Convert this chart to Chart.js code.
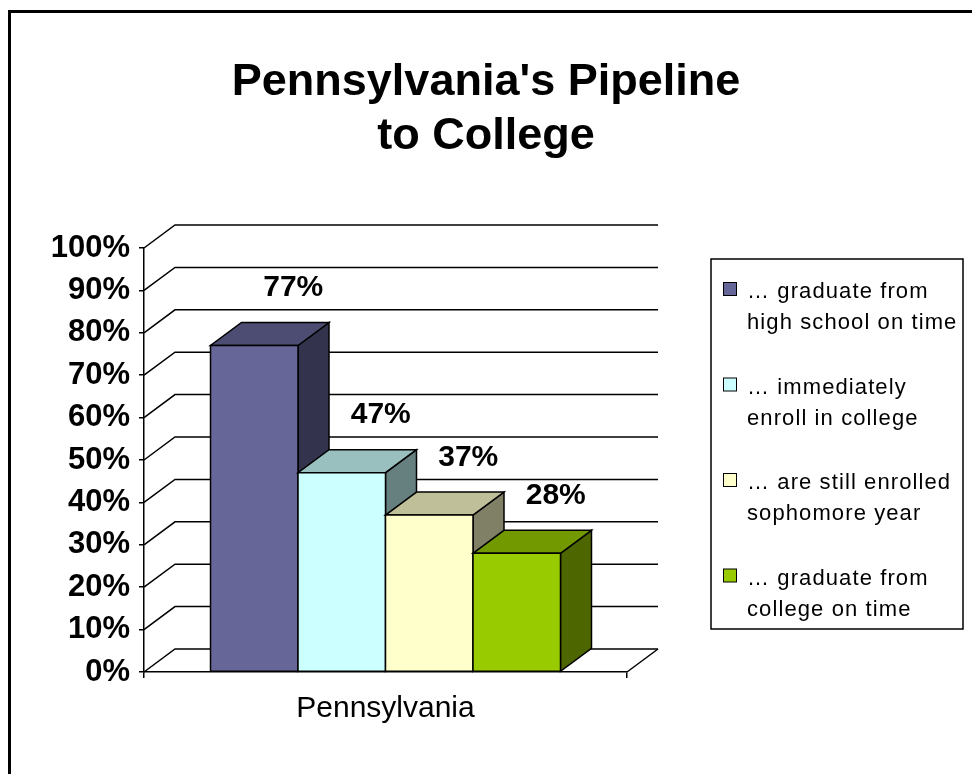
<!DOCTYPE html>
<html>
<head>
<meta charset="utf-8">
<script src="https://cdn.jsdelivr.net/npm/chart.js@4.4.1/dist/chart.umd.min.js"></script>
<style>
  html, body { margin: 0; padding: 0; background: #fff; }
  #wrap { width: 972px; height: 774px; }
</style>
</head>
<body>
<div id="wrap"><canvas id="c" width="972" height="774"></canvas></div>
<script>
// ---- data ----
const categories = ['Pennsylvania'];
const seriesNames = [
  ['… graduate from', 'high school on time'],
  ['… immediately', 'enroll in college'],
  ['… are still enrolled', 'sophomore year'],
  ['… graduate from', 'college on time']
];
const seriesValues = [77, 47, 37, 28];
const dataLabels = ['77%', '47%', '37%', '28%'];
const yTickValues = [0, 10, 20, 30, 40, 50, 60, 70, 80, 90, 100];
const titleLines = ["Pennsylvania's Pipeline", 'to College'];

// ---- styles ----
const frontColors = ['#666699', '#CCFFFF', '#FFFFCC', '#99CC00'];
const topColors   = ['#4D4D73', '#99BFBF', '#BFBF99', '#739900'];
const sideColors  = ['#33334D', '#668080', '#808066', '#4D6600'];
const FONT = '"Liberation Sans", Arial, sans-serif';
const DX = 31, DY = -23;

function poly(ctx, pts, fill) {
  ctx.beginPath();
  ctx.moveTo(pts[0][0], pts[0][1]);
  for (let i = 1; i < pts.length; i++) ctx.lineTo(pts[i][0], pts[i][1]);
  ctx.closePath();
  ctx.fillStyle = fill;
  ctx.fill();
  ctx.stroke();
}

const threeD = {
  id: 'threeD',
  beforeDraw(chart) {
    const ctx = chart.ctx;
    ctx.save();
    ctx.fillStyle = '#fff';
    ctx.fillRect(0, 0, chart.width, chart.height);
    ctx.strokeStyle = '#000';
    ctx.lineWidth = 3;
    ctx.beginPath();
    ctx.moveTo(9.5, chart.height);
    ctx.lineTo(9.5, 11.5);
    ctx.lineTo(chart.width, 11.5);
    ctx.stroke();
    ctx.restore();
  },
  beforeDatasetsDraw(chart) {
    const { ctx, chartArea: a } = chart;
    const y = chart.scales.y;
    ctx.save();
    ctx.strokeStyle = '#000';
    ctx.lineWidth = 1.5;
    yTickValues.forEach(v => {
      const py = y.getPixelForValue(v);
      ctx.beginPath();
      ctx.moveTo(a.left, py);
      ctx.lineTo(a.left + DX, py + DY);
      ctx.lineTo(a.right + DX, py + DY);
      ctx.stroke();
    });
    const p0 = y.getPixelForValue(0);
    ctx.beginPath();
    ctx.moveTo(a.right, p0);
    ctx.lineTo(a.right + DX, p0 + DY);
    ctx.stroke();
    ctx.restore();
  },
  beforeDatasetDraw() { return false; },
  afterDatasetsDraw(chart) {
    const ctx = chart.ctx;
    ctx.save();
    ctx.strokeStyle = '#000';
    ctx.lineWidth = 1.5;
    ctx.lineJoin = 'miter';
    const boxes = [];
    chart.data.datasets.forEach((ds, i) => {
      const meta = chart.getDatasetMeta(i);
      meta.data.forEach(el => {
        const { x, y, base, width } = el.getProps(['x', 'y', 'base', 'width'], true);
        const l = x - width / 2, r = x + width / 2;
        poly(ctx, [[r, y], [r + DX, y + DY], [r + DX, base + DY], [r, base]], sideColors[i]);
        poly(ctx, [[l, y], [r, y], [r + DX, y + DY], [l + DX, y + DY]], topColors[i]);
        poly(ctx, [[l, y], [r, y], [r, base], [l, base]], frontColors[i]);
        boxes.push({ x, y, i });
      });
    });
    ctx.fillStyle = '#000';
    ctx.font = 'bold 30px ' + FONT;
    ctx.textAlign = 'center';
    ctx.textBaseline = 'middle';
    boxes.forEach(b => ctx.fillText(dataLabels[b.i], b.x + 39, b.y - 57.5));
    ctx.restore();
  },
  afterDraw(chart) {
    const ctx = chart.ctx;
    ctx.save();
    ctx.strokeStyle = '#000';
    ctx.lineWidth = 1.5;
    ctx.strokeRect(711, 259, 252, 370);
    ctx.font = '22px ' + FONT;
    ctx.textAlign = 'left';
    ctx.textBaseline = 'alphabetic';
    try { ctx.letterSpacing = '1.1px'; } catch (e) {}
    chart.data.datasets.forEach((ds, i) => {
      const sy = 282 + i * 95.5;
      ctx.fillStyle = frontColors[i];
      ctx.lineWidth = 1;
      ctx.fillRect(723.5, sy + 0.5, 13, 13);
      ctx.strokeRect(723.5, sy + 0.5, 13, 13);
      ctx.fillStyle = '#000';
      seriesNames[i].forEach((line, k) => ctx.fillText(line, 747, sy + 16 + k * 31));
    });
    ctx.restore();
  }
};

const datasets = seriesValues.map((v, i) => ({
  label: seriesNames[i].join(' '),
  data: [v],
  backgroundColor: frontColors[i],
  borderColor: '#000',
  borderWidth: 1.5,
  xAxisID: 'x',
  yAxisID: 'y',
  categoryPercentage: 0.7246,
  barPercentage: 1.0
}));

new Chart(document.getElementById('c'), {
  type: 'bar',
  data: { labels: categories, datasets },
  plugins: [threeD],
  options: {
    responsive: false,
    devicePixelRatio: 1,
    animation: false,
    events: [],
    layout: { padding: 0 },
    plugins: {
      legend: { display: false },
      tooltip: { enabled: false },
      title: {
        display: true,
        text: titleLines,
        color: '#000',
        font: { family: FONT, weight: 'bold', size: 45, lineHeight: 1.2 },
        padding: { top: 56, bottom: 84 }
      }
    },
    scales: {
      x: {
        type: 'category',
        offset: true,
        grid: { display: true, drawOnChartArea: false, drawTicks: true, tickLength: 6, color: '#000', lineWidth: 1.5, offset: true },
        border: { display: true, color: '#000', width: 1.5 },
        ticks: { color: '#000', font: { family: FONT, size: 30 }, padding: 13 },
        afterFit: s => { s.height = 102; }
      },
      y: {
        type: 'linear',
        position: 'left',
        min: 0,
        max: 100,
        grid: { display: true, drawOnChartArea: false, drawTicks: true, tickLength: 5, color: '#000', lineWidth: 1.5 },
        border: { display: true, color: '#000', width: 1.5 },
        ticks: {
          stepSize: 10,
          autoSkip: false,
          color: '#000',
          padding: 9,
          font: { family: FONT, weight: 'bold', size: 31 },
          callback: v => v + '%'
        },
        afterFit: s => { s.width = 144; }
      },
      yR: {
        type: 'linear',
        position: 'right',
        display: true,
        grid: { display: false },
        border: { display: false },
        ticks: { display: false },
        afterFit: s => { s.width = 345; }
      }
    }
  }
});
</script>
</body>
</html>
